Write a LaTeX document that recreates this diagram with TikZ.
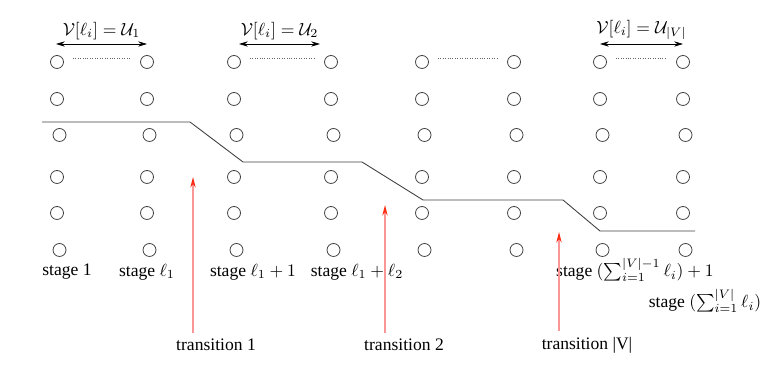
\documentclass[tikz,border=0pt]{standalone}
\usepackage{amsmath,amssymb}
\usepackage{fontspec}
\setmainfont{Liberation Serif}
\usetikzlibrary{arrows.meta,positioning}

\definecolor{tipred}{RGB}{250,45,20}
\definecolor{shaftred}{RGB}{250,150,150}

\begin{document}
\begin{tikzpicture}[x=0.02cm,y=-0.02cm,
    vertex/.style={draw=black!75, circle, line width=0.45pt, minimum size=0.26cm, inner sep=0pt},
    span/.style={{Stealth[length=5pt,width=3pt]}-{Stealth[length=5pt,width=3pt]}, line width=0.45pt},
    trans/.style={-{Stealth[length=6pt,width=3pt,color=tipred]}, draw=shaftred, line width=0.6pt},
    route/.style={black!75, line width=0.5pt},
    stagelab/.style={inner sep=0.5pt}]
    \useasboundingbox (0,0) rectangle (777,374);

    % Grid of states
    \foreach \r/\y/\dx in {1/62/0, 2/99/0, 3/135/2.5, 4/177/0, 5/213/0, 6/250/2.5} {
        \foreach \c/\x in {1/57, 2/147, 3/234, 4/331, 5/422, 6/514, 7/600, 8/683} {
            \node[vertex] (c-\r-\c) at (\x+\dx, \y) {};
        }
    }

    % Dots between the first and last state of each block
    \foreach \a/\b in {1/2, 3/4, 5/6, 7/8} {
        \draw[black!60, densely dotted, shorten <=5pt, shorten >=5pt]
            ([yshift=2pt]c-1-\a.east) -- ([yshift=2pt]c-1-\b.west);
    }

    % Blocks of states
    \foreach \n/\xa/\xb/\lab in {1/56/147/{\mathcal{U}_1}, 2/239/320/{\mathcal{U}_2}, 3/600/683/{\mathcal{U}_{|V|}}} {
        \coordinate (sl-\n) at (\xa, 44);
        \coordinate (sr-\n) at (\xb, 44);
        \draw[span] (sl-\n) -- (sr-\n)
            node[midway, above=-1pt] {$\mathcal{V}[\ell_i] = \lab$};
    }

    % Route through the stages
    \draw[route] (42,122) -- (190,122) -- (243,162) -- (362,162)
        -- (423,200) -- (563,200) -- (600,231) -- (695,231);

    % Stage labels
    \node[stagelab] (st-1) at (67,272) {stage 1};
    \node[stagelab] (st-2) at (147,272) {stage $\ell_1$};
    \node[stagelab] (st-3) at (253,272) {stage $\ell_1+1$};
    \node[stagelab] (st-4) at (357,272) {stage $\ell_1+\ell_2$};
    \node[stagelab] (st-5) at (635,270) {stage $(\sum_{i=1}^{|V|-1}\ell_i)+1$};
    \node[stagelab] (st-6) at (705,301) {stage $(\sum_{i=1}^{|V|}\ell_i)$};

    % Transitions
    \node (t-1) at (216,345) {transition 1};
    \node (t-2) at (404,345) {transition 2};
    \node (t-3) at (587,345) {transition |V|};
    \coordinate (tt-1) at (193,177);
    \coordinate (tt-2) at (385,205);
    \coordinate (tt-3) at (559,232);
    \foreach \n in {1,2,3} {
        \draw[trans] (tt-\n |- t-\n.north) -- (tt-\n);
    }
\end{tikzpicture}
\end{document}
